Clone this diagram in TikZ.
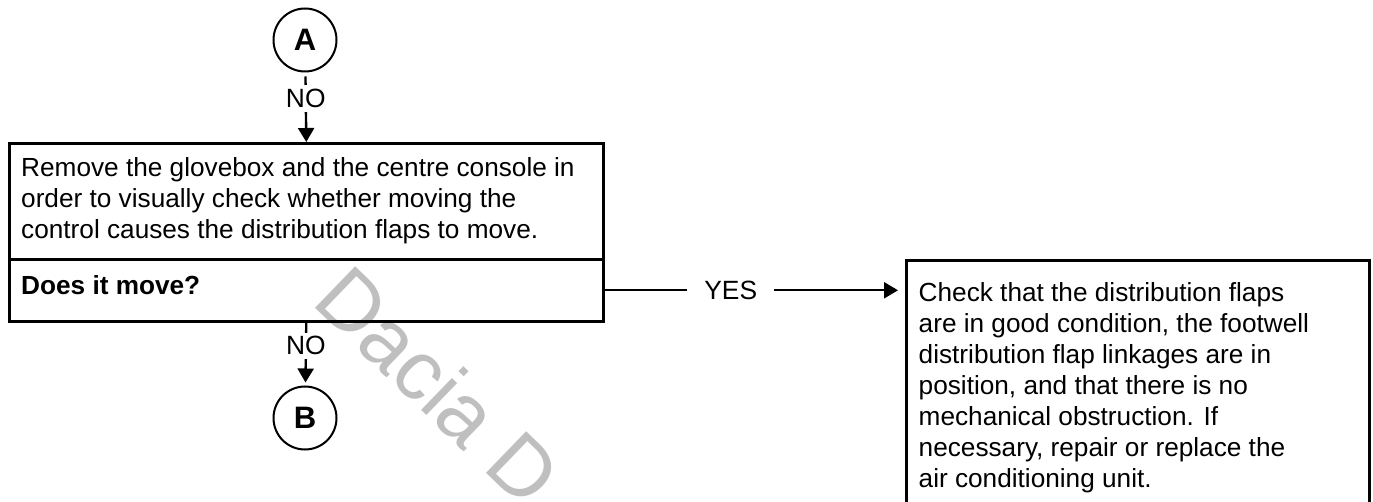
\documentclass[tikz,border=0pt]{standalone}
\usepackage{fontspec}
\setmainfont{Liberation Sans}
\usetikzlibrary{arrows.meta}
\definecolor{wmgray}{RGB}{191,191,191}
\tikzset{
  body/.style={font=\fontsize{26.2}{31}\selectfont, inner sep=0pt, anchor=base west, align=left},
  boxframe/.style={draw, line width=2.6pt, rectangle, inner sep=0pt, anchor=north west},
  conn/.style={circle, draw, line width=2pt, minimum size=63pt, inner sep=0pt, font=\fontsize{31}{31}\selectfont\bfseries},
  flow/.style={line width=2.4pt, -{Triangle[length=14pt,width=16pt]}},
  lbl/.style={font=\fontsize{26.4}{30}\selectfont, fill=white, inner xsep=17pt, inner ysep=4pt},
  wmtext/.style={font=\fontsize{84}{84}\selectfont, text=wmgray, inner sep=0pt, anchor=base west, rotate=-44}
}
\begin{document}
\begin{tikzpicture}[x=1pt,y=-1pt]
\useasboundingbox (0,0) rectangle (1373,502);
\clip (0,0) rectangle (1373,502);
% watermark
\node[wmtext] (wm) at (310,303) {Dacia D};
% boxes
\node[boxframe, minimum width=594pt, minimum height=116pt] (upper) at (8,142) {};
\node[boxframe, minimum width=594pt, minimum height=62pt] (lower) at (8,258) {};
\node[boxframe, minimum width=463pt, minimum height=300pt] (check) at (905,259) {};
% texts (base anchor = baseline of last line)
\node[body] (t1) at (21,238.5) {Remove the glovebox and the centre console in\\order to visually check whether moving the\\control causes the distribution flaps to move.};
\node[body, font=\fontsize{26.2}{31}\selectfont\bfseries] (t2) at (21,295) {Does it move?};
\node[body] (t3) at (918.5,487) {Check that the distribution flaps\\are in good condition, the footwell\\distribution flap linkages are in\\position, and that there is no\\mechanical obstruction. If\\necessary, repair or replace the\\air conditioning unit.};
% connectors
\node[conn] (A) at (305,40) {A};
\node[conn] (B) at (305,418) {B};
\draw[flow, shorten <=4pt] (A) -- node[lbl, pos=0.37] {NO} (upper.north);
\draw[flow, shorten >=3pt] (lower.south) -- node[lbl, pos=0.37] {NO} (B);
\draw[flow, shorten >=7pt] (lower.east) -- node[lbl, pos=0.42] {YES} (lower.east -| check.west);
\end{tikzpicture}
\end{document}
